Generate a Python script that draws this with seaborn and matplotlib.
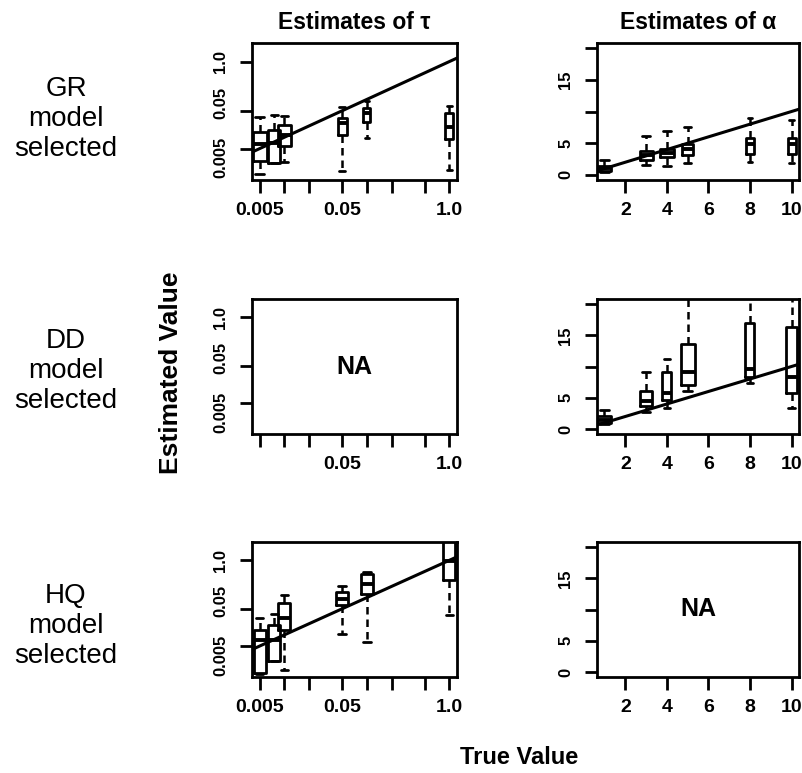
import numpy as np
import matplotlib
matplotlib.use("Agg")
import matplotlib.pyplot as plt
import matplotlib.transforms as mtransforms
import seaborn as sns

# ---------------- data ----------------
tau_true = [0.005, 0.0075, 0.01, 0.05, 0.1, 1.0]
alpha_true = [1, 3, 4, 5, 8, 10]

# GR model selected: estimates of tau (lower whisker, Q1, median, Q3, upper whisker)
gr_tau_lo  = [0.0011, 0.0021, 0.0022, 0.0013, 0.0098, 0.0014]
gr_tau_q1  = [0.0024, 0.0021, 0.0059, 0.0115, 0.0255, 0.0092]
gr_tau_med = [0.0068, 0.0071, 0.0113, 0.0231, 0.0425, 0.0188]
gr_tau_q3  = [0.0139, 0.0160, 0.0208, 0.0313, 0.0577, 0.0425]
gr_tau_hi  = [0.0333, 0.0384, 0.0375, 0.0613, 0.0922, 0.0665]

# GR model selected: estimates of alpha
gr_alpha_lo  = [0.53, 1.6, 1.35, 1.9, 2.0, 1.9]
gr_alpha_q1  = [0.64, 2.35, 2.8, 3.2, 3.3, 3.3]
gr_alpha_med = [1.02, 3.2, 3.4, 4.1, 4.8, 4.8]
gr_alpha_q3  = [1.44, 3.85, 4.1, 4.9, 5.9, 5.9]
gr_alpha_hi  = [2.35, 6.1, 6.9, 7.6, 8.9, 8.7]

# DD model selected: estimates of alpha (tau not available)
dd_alpha_lo  = [0.8, 2.7, 3.3, 6.05, 7.4, 3.3]
dd_alpha_q1  = [0.95, 3.7, 4.7, 7.1, 8.4, 5.7]
dd_alpha_med = [1.5, 4.5, 5.8, 9.05, 9.6, 8.4]
dd_alpha_q3  = [2.1, 6.05, 9.05, 13.6, 16.9, 16.3]
dd_alpha_hi  = [3.05, 9.05, 11.2, 25.0, 25.0, 25.0]

# HQ model selected: estimates of tau (alpha not available)
hq_tau_lo  = [0.0009, 0.0020, 0.00115, 0.0108, 0.0065, 0.0347]
hq_tau_q1  = [0.00094, 0.0020, 0.0139, 0.0613, 0.125, 0.294]
hq_tau_med = [0.0072, 0.0072, 0.0289, 0.092, 0.231, 0.96]
hq_tau_q3  = [0.0139, 0.0181, 0.0707, 0.144, 0.425, 4.0]
hq_tau_hi  = [0.0289, 0.0368, 0.120, 0.208, 0.49, 6.3]

tau_xticks = [0.005, 0.01, 0.02, 0.05, 0.1, 0.2, 0.5, 1.0]
tau_xtick_labels = ["0.005", "", "", "0.05", "", "", "", "1.0"]
tau_xtick_labels_na = ["", "", "", "0.05", "", "", "", "1.0"]
tau_yticks = [0.005, 0.05, 1.0]
tau_ytick_labels = ["0.005", "0.05", "1.0"]
alpha_xticks = [2, 4, 6, 8, 10]
alpha_xtick_labels = ["2", "4", "6", "8", "10"]
alpha_yticks = [0, 5, 10, 15, 20]
alpha_ytick_labels = ["0", "5", "", "15", ""]

row_labels = ["GR\nmodel\nselected", "DD\nmodel\nselected", "HQ\nmodel\nselected"]
col_titles = ["Estimates of \u03c4", "Estimates of \u03b1"]

# ---------------- style ----------------
sns.set_style("white")
plt.rcParams['font.family'] = ['Liberation Sans', 'DejaVu Sans']
plt.rcParams['text.color'] = 'black'
plt.rcParams['axes.labelcolor'] = 'black'
plt.rcParams['xtick.color'] = 'black'
plt.rcParams['ytick.color'] = 'black'

W, H = 803, 773
fig = plt.figure(figsize=(W / 100, H / 100), dpi=100)

cols = [(252, 457), (597, 799)]
rows = [(43, 180), (299, 434), (542, 677)]

# box widths in pixels (varwidth look)
w_gr_tau = [14, 12, 13, 9, 7, 8]
w_hq_tau = [12, 12, 12, 12, 12, 12]
w_gr_alpha = [14, 13, 14, 11, 8, 8]
w_dd_alpha = [14, 12, 9, 14, 9, 11]

# vertical nudges (px) of the tau y tick labels, as in the original
tau_ylabel_nudge = [-9, 8, 0]

TAU_XLIM = (np.log10(0.005) - 0.092, 0.092)
TAU_YLIM = (-3.13, 0.49)
ALPHA_XLIM = (0.64, 10.36)
ALPHA_YLIM = (-0.8, 20.8)

XTICK_FS = 14
YTICK_FS = 12


def px_axes(c, r):
    x0, x1 = cols[c]
    y0, y1 = rows[r]
    return fig.add_axes([x0 / W, 1 - y1 / H, (x1 - x0) / W, (y1 - y0) / H])


def style_axes(ax):
    for s in ax.spines.values():
        s.set_visible(True)
        s.set_linewidth(2.0)
        s.set_color("black")
    ax.tick_params(axis="both", direction="out", length=9, width=2.0,
                   color="black", bottom=True, left=True)
    ax.tick_params(axis="x", pad=7, labelsize=XTICK_FS)
    ax.tick_params(axis="y", pad=8, labelsize=YTICK_FS)


def draw_boxes(ax, pos, lo, q1, med, q3, hi, wpx, panel_w, xlim):
    span = xlim[1] - xlim[0]
    widths = [w / panel_w * span for w in wpx]
    stats = [dict(whislo=a, q1=b, med=c, q3=d, whishi=e, fliers=[])
             for a, b, c, d, e in zip(lo, q1, med, q3, hi)]
    ax.bxp(stats, positions=pos, widths=widths,
           capwidths=[w * 0.6 for w in widths], showfliers=False,
           manage_ticks=False,
           boxprops=dict(color="black", linewidth=2.0),
           medianprops=dict(color="black", linewidth=2.8),
           whiskerprops=dict(color="black", linewidth=1.8, linestyle=(0, (3, 2))),
           capprops=dict(color="black", linewidth=2.0))


def identity(ax):
    ax.axline((0, 0), slope=1, color="black", linewidth=2.2, zorder=5)


def setup_tau(ax, xlabels):
    ax.set_xlim(*TAU_XLIM)
    ax.set_ylim(*TAU_YLIM)
    ax.set_xticks(np.log10(tau_xticks))
    ax.set_xticklabels(xlabels, fontsize=XTICK_FS, fontweight="bold", color="black")
    ax.set_yticks(np.log10(tau_yticks))
    ax.set_yticklabels(tau_ytick_labels, fontsize=YTICK_FS, fontweight="bold",
                       color="black", rotation=90, va="center", ha="right")
    style_axes(ax)
    for lab, dy in zip(ax.get_yticklabels(), tau_ylabel_nudge):
        lab.set_transform(lab.get_transform() + mtransforms.ScaledTranslation(
            0, dy / 100, fig.dpi_scale_trans))


def setup_alpha(ax):
    ax.set_xlim(*ALPHA_XLIM)
    ax.set_ylim(*ALPHA_YLIM)
    ax.set_xticks(alpha_xticks)
    ax.set_xticklabels(alpha_xtick_labels, fontsize=XTICK_FS, fontweight="bold",
                       color="black")
    ax.set_yticks(alpha_yticks)
    ax.set_yticklabels(alpha_ytick_labels, fontsize=YTICK_FS, fontweight="bold",
                       color="black", rotation=90, va="center", ha="right")
    style_axes(ax)


tau_pos = np.log10(tau_true)
tw = cols[0][1] - cols[0][0]
aw = cols[1][1] - cols[1][0]

# Row 1: GR
ax = px_axes(0, 0)
draw_boxes(ax, tau_pos, np.log10(gr_tau_lo), np.log10(gr_tau_q1), np.log10(gr_tau_med),
           np.log10(gr_tau_q3), np.log10(gr_tau_hi), w_gr_tau, tw, TAU_XLIM)
identity(ax)
setup_tau(ax, tau_xtick_labels)
ax.set_title(col_titles[0], fontsize=16.5, fontweight="bold", pad=10, color="black")

ax = px_axes(1, 0)
draw_boxes(ax, alpha_true, gr_alpha_lo, gr_alpha_q1, gr_alpha_med, gr_alpha_q3,
           gr_alpha_hi, w_gr_alpha, aw, ALPHA_XLIM)
identity(ax)
setup_alpha(ax)
ax.set_title(col_titles[1], fontsize=16.5, fontweight="bold", pad=10, color="black")

# Row 2: DD
ax = px_axes(0, 1)
setup_tau(ax, tau_xtick_labels_na)
ax.text(0.5, 0.5, "NA", transform=ax.transAxes, ha="center", va="center",
        fontsize=18, fontweight="bold")

ax = px_axes(1, 1)
draw_boxes(ax, alpha_true, dd_alpha_lo, dd_alpha_q1, dd_alpha_med, dd_alpha_q3,
           dd_alpha_hi, w_dd_alpha, aw, ALPHA_XLIM)
identity(ax)
setup_alpha(ax)

# Row 3: HQ
ax = px_axes(0, 2)
draw_boxes(ax, tau_pos, np.log10(hq_tau_lo), np.log10(hq_tau_q1), np.log10(hq_tau_med),
           np.log10(hq_tau_q3), np.log10(hq_tau_hi), w_hq_tau, tw, TAU_XLIM)
identity(ax)
setup_tau(ax, tau_xtick_labels)

ax = px_axes(1, 2)
setup_alpha(ax)
ax.text(0.5, 0.5, "NA", transform=ax.transAxes, ha="center", va="center",
        fontsize=18, fontweight="bold")

# Row labels
row_centers = [119, 371, 626]
for lab, yc in zip(row_labels, row_centers):
    fig.text(66 / W, 1 - yc / H, lab, ha="center", va="center", fontsize=20,
             linespacing=1.2, color="black")

fig.text(171 / W, 1 - 373 / H, "Estimated Value", rotation=90, ha="center",
         va="center", fontsize=19, fontweight="bold", color="black")
fig.text(519 / W, 1 - 758 / H, "True Value", ha="center", va="center",
         fontsize=17, fontweight="bold", color="black")

fig.savefig("out.png", dpi=100)
